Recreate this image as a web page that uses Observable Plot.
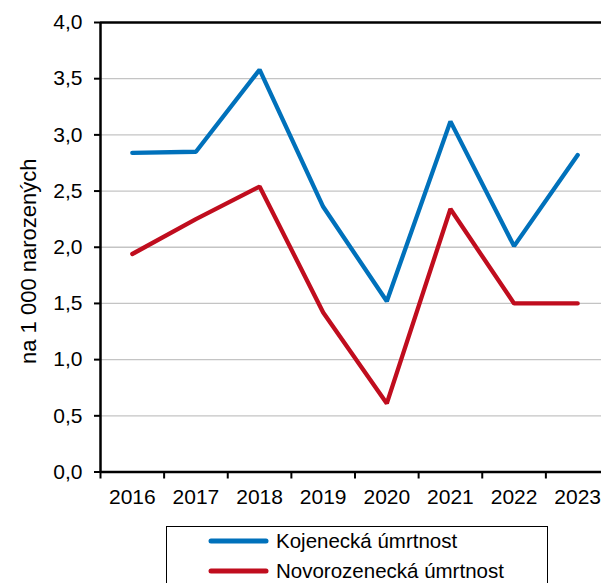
<!DOCTYPE html>
<html>
<head>
<meta charset="utf-8">
<script src="https://cdn.jsdelivr.net/npm/d3@7"></script>
<script src="https://cdn.jsdelivr.net/npm/@observablehq/plot@0.6"></script>
<style>
  html, body { margin: 0; padding: 0; background: #fff; }
  #wrap { position: relative; width: 601px; height: 583px; overflow: hidden; font-family: "Liberation Sans", Arial, sans-serif; }
  #legend { position: absolute; left: 166px; top: 526px; width: 382px; height: 80px; border: 1.2px solid #000; box-sizing: border-box; background: #fff; }
</style>
</head>
<body>
<div id="wrap"></div>
<script>
const years = [2016, 2017, 2018, 2019, 2020, 2021, 2022, 2023];
const kojenecka = [2.84, 2.85, 3.58, 2.36, 1.52, 3.12, 2.01, 2.82];
const novorozenecka = [1.94, 2.25, 2.54, 1.42, 0.61, 2.34, 1.50, 1.50];
const seriesNames = ["Kojenecká úmrtnost", "Novorozenecká úmrtnost"];
const seriesColors = ["#0071BB", "#C00D1E"];
const yTicks = [0, 0.5, 1, 1.5, 2, 2.5, 3, 3.5, 4];
const xBoundaries = [2015.5, 2016.5, 2017.5, 2018.5, 2019.5, 2020.5, 2021.5, 2022.5, 2023.5];
const yLabel = "na 1 000 narozených";

const seriesValues = [kojenecka, novorozenecka];
const data = [];
seriesNames.forEach((name, i) => {
  years.forEach((yr, j) => data.push({year: yr, value: seriesValues[i][j], series: name}));
});

const fmt = d => d.toFixed(1).replace(".", ",");

const chart = Plot.plot({
  width: 601,
  height: 515,
  marginTop: 22,
  marginBottom: 43.5,
  marginLeft: 100,
  marginRight: -8,
  x: {domain: [xBoundaries[0], xBoundaries[xBoundaries.length - 1]]},
  y: {domain: [0, 4]},
  color: {domain: seriesNames, range: seriesColors},
  style: {fontFamily: "'Liberation Sans', Arial, sans-serif", fontSize: "21px", color: "#000", background: "#fff"},
  marks: [
    Plot.gridY(yTicks.slice(1, -1), {stroke: "#c4c4c4", strokeOpacity: 1, strokeWidth: 1.3}),
    Plot.ruleY([yTicks[yTicks.length - 1]], {stroke: "#000", strokeWidth: 2.5}),
    Plot.axisY(yTicks, {tickSize: 6, tickPadding: 12, tickFormat: fmt, strokeWidth: 2, label: null, fontSize: 21}),
    Plot.axisX(xBoundaries, {tickSize: 7, tickFormat: () => "", strokeWidth: 2, label: null}),
    Plot.axisX(years, {tickSize: 0, tickPadding: 17, tickFormat: d => String(d), label: null, fontSize: 21}),
    Plot.ruleX([xBoundaries[0]], {stroke: "#000", strokeWidth: 2.5}),
    Plot.ruleY([0], {stroke: "#000", strokeWidth: 2.5}),
    Plot.text([yLabel], {frameAnchor: "left", textAnchor: "middle", rotate: -90, dx: -72, dy: 14, fontSize: 22, fill: "#000", text: d => d}),
    Plot.line(data, {x: "year", y: "value", z: "series", stroke: "series", strokeWidth: 4.3, strokeLinecap: "round", strokeLinejoin: "miter"})
  ]
});
const wrap = document.getElementById("wrap");
wrap.appendChild(chart);

// Legend below the chart
const legend = document.createElement("div");
legend.id = "legend";
const ns = "http://www.w3.org/2000/svg";
const lsvg = document.createElementNS(ns, "svg");
lsvg.setAttribute("width", 382);
lsvg.setAttribute("height", 80);
lsvg.style.fontFamily = "'Liberation Sans', Arial, sans-serif";
seriesNames.forEach((name, i) => {
  const cy = 14 + i * 30;
  const ln = document.createElementNS(ns, "line");
  ln.setAttribute("x1", 44); ln.setAttribute("x2", 99);
  ln.setAttribute("y1", cy); ln.setAttribute("y2", cy);
  ln.setAttribute("stroke", seriesColors[i]);
  ln.setAttribute("stroke-width", 5);
  ln.setAttribute("stroke-linecap", "round");
  lsvg.appendChild(ln);
  const tx = document.createElementNS(ns, "text");
  tx.setAttribute("x", 109);
  tx.setAttribute("y", cy);
  tx.setAttribute("dy", "0.35em");
  tx.setAttribute("font-size", 20.5);
  tx.setAttribute("fill", "#000");
  tx.textContent = name;
  lsvg.appendChild(tx);
});
legend.appendChild(lsvg);
wrap.appendChild(legend);
</script>
</body>
</html>
